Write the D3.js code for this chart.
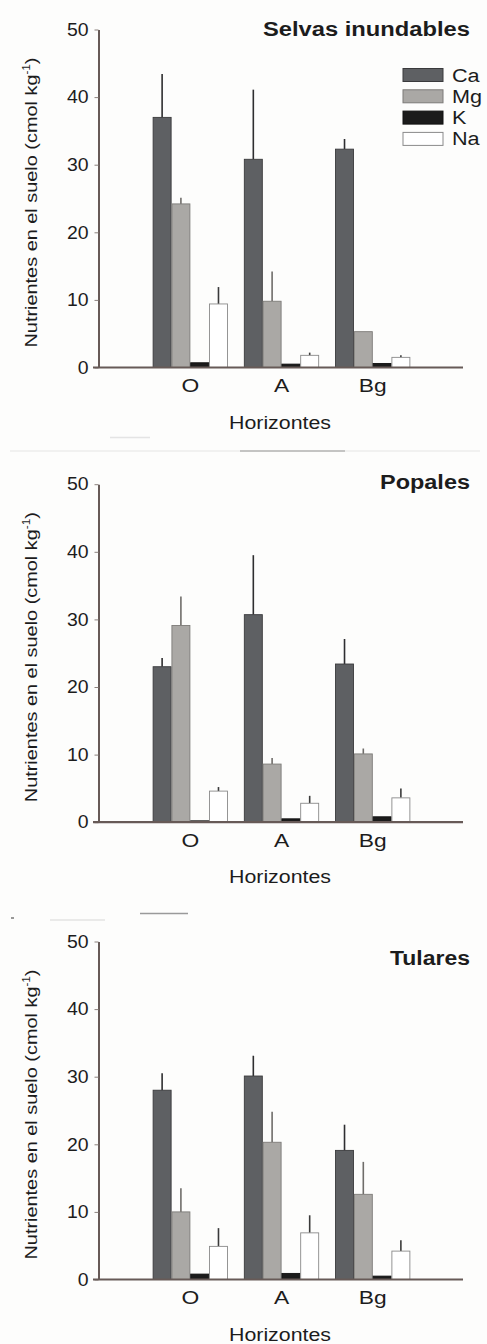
<!DOCTYPE html>
<html>
<head>
<meta charset="utf-8">
<script src="https://cdn.jsdelivr.net/npm/d3@7"></script>
<style>
  html, body { margin: 0; padding: 0; background: #fdfdfc; }
  svg { display: block; }
  text { font-family: "Liberation Sans", Arial, Helvetica, sans-serif; fill: #1c1c1c; }
</style>
</head>
<body>
<svg id="chart" width="487" height="1344"></svg>
<script>
// Soil nutrients (cmol kg-1) by horizon, for three wetland vegetation types.
const horizons = ["O", "A", "Bg"];
const nutrients = ["Ca", "Mg", "K", "Na"];
const panelTitles = ["Selvas inundables", "Popales", "Tulares"];
const yTicks = [0, 10, 20, 30, 40, 50];

// Means: one row per nutrient (Ca, Mg, K, Na), one value per horizon (O, A, Bg)
const selvasMean = [[37.0, 30.8, 32.3], [24.2, 9.8, 5.3], [0.7, 0.5, 0.6], [9.4, 1.8, 1.5]];
const selvasErr  = [[6.4, 10.3, 1.5], [0.9, 4.4, 0.0], [0, 0, 0], [2.5, 0.4, 0.3]];
const popalesMean = [[23.0, 30.7, 23.4], [29.1, 8.6, 10.1], [0.2, 0.5, 0.8], [4.6, 2.8, 3.6]];
const popalesErr  = [[1.3, 8.8, 3.7], [4.3, 0.9, 0.8], [0, 0, 0], [0.6, 1.1, 1.4]];
const tularesMean = [[28.0, 30.1, 19.1], [10.0, 20.3, 12.6], [0.8, 0.9, 0.5], [4.9, 6.9, 4.2]];
const tularesErr  = [[2.5, 3.0, 3.8], [3.5, 4.5, 4.8], [0, 0, 0], [2.7, 2.6, 1.6]];

const panelMeans = [selvasMean, popalesMean, tularesMean];
const panelErrs = [selvasErr, popalesErr, tularesErr];

// Styling
const fills   = { Ca: "#5e6063", Mg: "#aaa8a5", K: "#1b1b1b", Na: "#ffffff" };
const strokes = { Ca: "#3a3a3c", Mg: "#7d7b78", K: "#111111", Na: "#8a8a8a" };
const errCol  = { Ca: "#2e2e30", Mg: "#6f6d6a", K: "#111111", Na: "#3a3a3a" };
const axisCol = "#675a57";
const textCol = "#161616";

const svg = d3.select("#chart");

// Panel geometry
const panelOffsets = [0, 454.7, 912];
const plotTop = 29.5, plotH = 338.0;
const titleDy = [6, 4.7, 23.3];
const titleWidths = [207, 90, 80];
const xLeft = 93, xRight = 463, axisX = 98.5;

const x0 = d3.scaleBand().domain(horizons).range([144.7, 418.3])
  .paddingInner(0.176).paddingOuter(0.088);
const x1 = d3.scaleBand().domain(nutrients).range([0, x0.bandwidth()]).padding(0);

// The typeface in this figure is set wide: stretch text by a factor or to a width
function wideText(sel, k) {
  sel.each(function () {
    const len = this.getComputedTextLength();
    d3.select(this).attr("textLength", len * k).attr("lengthAdjust", "spacingAndGlyphs");
  });
}
function fitText(sel, w) {
  sel.attr("textLength", w).attr("lengthAdjust", "spacingAndGlyphs");
}

panelTitles.forEach((title, p) => {
  const g = svg.append("g").attr("transform", `translate(0,${panelOffsets[p]})`);
  const y = d3.scaleLinear().domain([0, 50]).range([plotTop + plotH, plotTop]);
  const y0 = y(0);
  const means = panelMeans[p], errs = panelErrs[p];

  // Bars and one-sided error lines
  nutrients.forEach((n, s) => {
    horizons.forEach((h, i) => {
      const bx = x0(h) + x1(n);
      const v = means[s][i], e = errs[s][i];
      if (e > 0) {
        g.append("line")
          .attr("x1", bx + x1.bandwidth() / 2).attr("x2", bx + x1.bandwidth() / 2)
          .attr("y1", y(v)).attr("y2", y(v + e))
          .attr("stroke", errCol[n]).attr("stroke-width", 1.6);
      }
      g.append("rect")
        .attr("x", bx + 0.4).attr("width", x1.bandwidth() - 0.8)
        .attr("y", y(v)).attr("height", y0 - y(v))
        .attr("fill", fills[n]).attr("stroke", strokes[n]).attr("stroke-width", 0.9);
    });
  });

  // Y axis
  const yAxis = g.append("g").attr("transform", `translate(${axisX},0)`)
    .call(d3.axisLeft(y).tickValues(yTicks).tickSize(4).tickPadding(6).tickSizeOuter(0));
  yAxis.select(".domain").attr("stroke", axisCol).attr("stroke-width", 2);
  yAxis.selectAll(".tick line").attr("stroke", "#8a807d").attr("stroke-width", 1);
  yAxis.selectAll(".tick text").attr("font-size", 18).attr("fill", textCol)
    .style("font-family", '"Liberation Sans", Arial, sans-serif').call(wideText, 1.08);

  // X axis baseline with horizon labels
  const xAxis = g.append("g").attr("transform", `translate(0,${y0})`)
    .call(d3.axisBottom(x0).tickSize(0).tickPadding(11));
  xAxis.select(".domain").attr("d", `M${xLeft},0H${xRight}`)
    .attr("stroke", axisCol).attr("stroke-width", 2.2);
  xAxis.selectAll(".tick text").attr("font-size", 19).attr("fill", textCol)
    .attr("dy", "0.71em")
    .style("font-family", '"Liberation Sans", Arial, sans-serif').call(wideText, 1.2);

  // Axis titles
  g.append("text").attr("x", 280).attr("y", y0 + 61)
    .attr("text-anchor", "middle").attr("font-size", 18).attr("fill", textCol)
    .text("Horizontes").call(fitText, 102);

  const yl = g.append("text")
    .attr("transform", `translate(37,${(y(0) + y(50)) / 2 + 4}) rotate(-90)`)
    .attr("text-anchor", "middle").attr("font-size", 17).attr("fill", textCol);
  yl.append("tspan").text("Nutrientes en el suelo (cmol kg");
  yl.append("tspan").attr("font-size", 10).attr("dy", -7).text("-1");
  yl.append("tspan").attr("dy", 7).text(")");
  fitText(yl, 290);

  // Panel title
  g.append("text").attr("x", 470).attr("y", plotTop + titleDy[p])
    .attr("text-anchor", "end").attr("font-size", 20).attr("font-weight", "bold")
    .attr("fill", "#111").text(title).call(fitText, titleWidths[p]);

  // Legend (first panel only)
  if (p === 0) {
    const lg = g.append("g").attr("transform", "translate(403,68.5)");
    nutrients.forEach((n, s) => {
      const row = lg.append("g").attr("transform", `translate(0,${s * 21.3})`);
      row.append("rect").attr("width", 40).attr("height", 13)
        .attr("fill", fills[n]).attr("stroke", strokes[n]).attr("stroke-width", 1);
      row.append("text").attr("x", 49).attr("y", 13).attr("font-size", 18)
        .attr("fill", textCol).text(n).call(wideText, 1.2);
    });
  }
});

// Faint divider remnants between panels
const dividers = [
  { x1: 110, x2: 150, y: 437.5, c: "#e4e4e4" },
  { x1: 10, x2: 480, y: 451, c: "#ededed" },
  { x1: 240, x2: 345, y: 451, c: "#b5b5b5" },
  { x1: 140, x2: 188, y: 913.5, c: "#9a9a9a" },
  { x1: 50, x2: 105, y: 920, c: "#e3e3e3" },
  { x1: 11, x2: 14, y: 918, c: "#777" }
];
svg.selectAll("line.divider").data(dividers).join("line")
  .attr("class", "divider")
  .attr("x1", d => d.x1).attr("x2", d => d.x2)
  .attr("y1", d => d.y).attr("y2", d => d.y)
  .attr("stroke", d => d.c).attr("stroke-width", 1.5);
</script>
</body>
</html>
